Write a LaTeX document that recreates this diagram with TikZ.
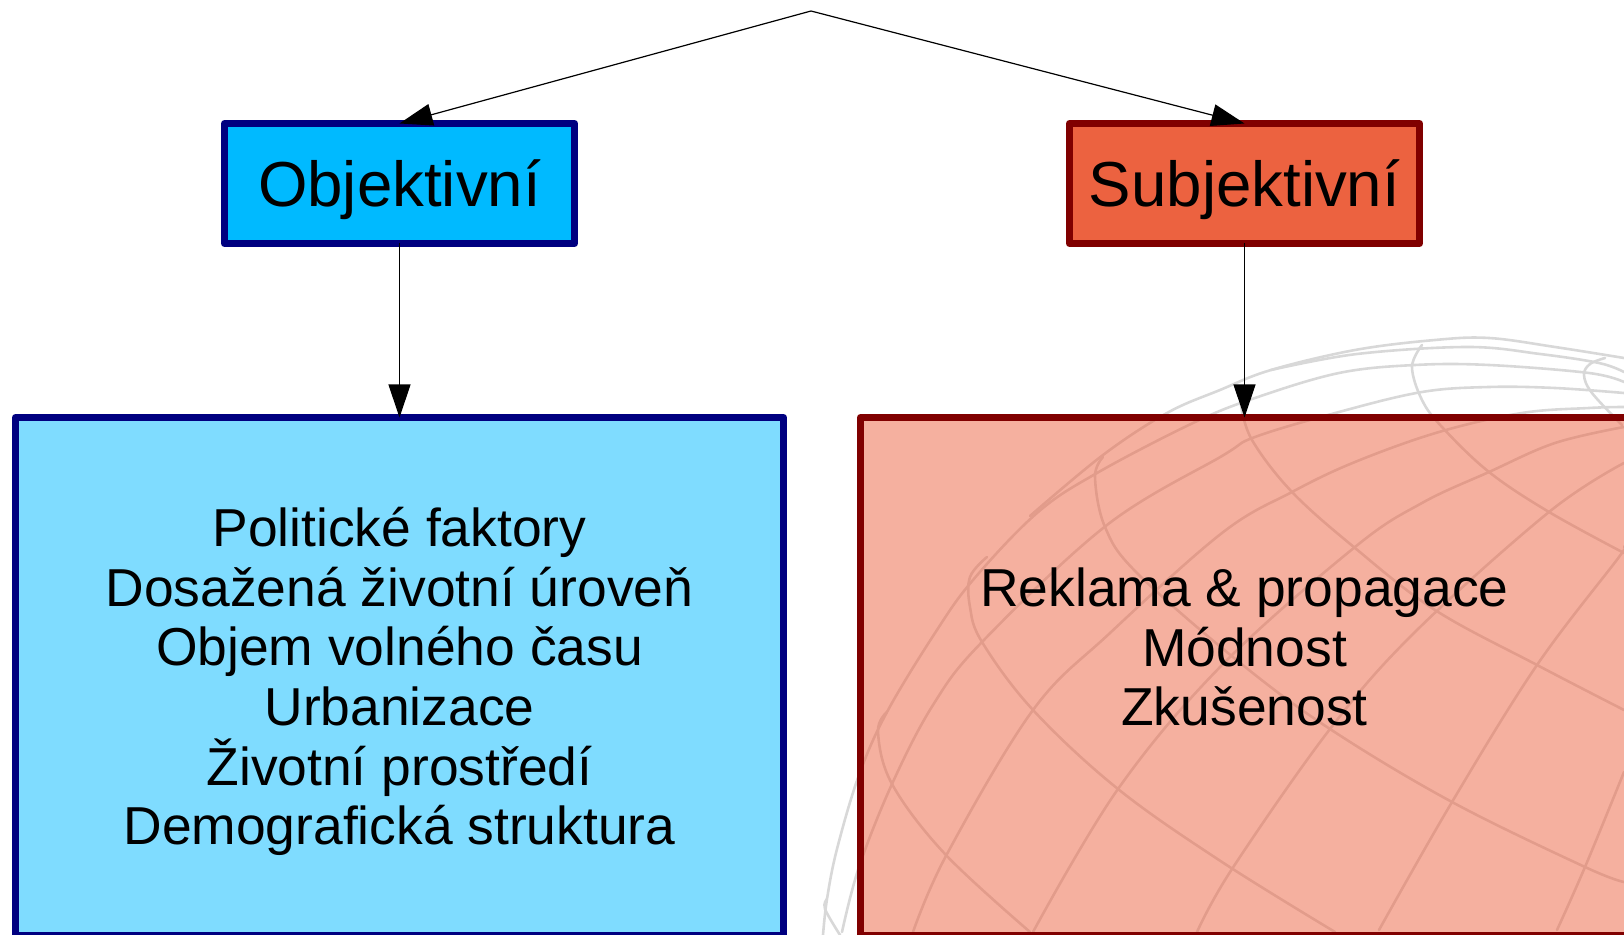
\documentclass[tikz,border=0pt]{standalone}
\usepackage{fontspec}
\setmainfont{Liberation Sans}
\usetikzlibrary{arrows.meta}
\definecolor{objfill}{HTML}{00BAFF}
\definecolor{objline}{HTML}{000080}
\definecolor{subfill}{HTML}{EC6240}
\definecolor{subline}{HTML}{800000}
\definecolor{globegray}{HTML}{D8D8D8}
\tikzset{
  headbox/.style={draw,line width=3.5pt,line join=round,inner sep=0pt,outer sep=0pt,
    minimum width=175pt,minimum height=60pt,text height=29pt,text depth=5.6pt,
    font=\fontsize{31.8}{36}\selectfont},
  listbox/.style={draw,line width=3.5pt,line join=round,inner sep=0pt,outer sep=0pt,
    minimum width=384pt,minimum height=259pt,fill opacity=.5,draw opacity=1},
  listtext/.style={align=center,inner sep=0pt,font=\fontsize{26.7}{29.8}\selectfont},
  link/.style={line width=.6pt,-{Triangle[length=16.5pt,width=11pt]}},
  globeline/.style={globegray,line width=1.3pt,line cap=round}
}
\begin{document}
\begin{tikzpicture}[x=.5pt,y=-.5pt]
  \useasboundingbox (0,0) rectangle (1624,935);
  % globe behind the boxes
  \begin{scope}[globeline]
    \draw plot[smooth,tension=.6] coordinates {(1030,516) (1103,455) (1167,413) (1220,390) (1271,370) (1355,350) (1435,340) (1489,338) (1555,347) (1624,358)};
    \draw plot[smooth,tension=.6] coordinates {(1271,370) (1357,354) (1468,347) (1540,354) (1599,363) (1624,372)};
    \draw plot[smooth,tension=.6] coordinates {(823,935) (827,899) (837,849) (859,775) (887,712) (935,633) (973,580) (1037,513) (1097,473) (1193,423) (1255,398) (1339,373) (1415,365) (1489,365) (1589,373) (1624,382)};
    \draw plot[smooth,tension=.6] coordinates {(842,932) (859,867) (892,784) (933,705) (982,642) (1107,525) (1222,456) (1255,437) (1339,412) (1422,392) (1489,387) (1555,388) (1624,393)};
    \draw plot[smooth,tension=.6] coordinates {(913,932) (947,854) (1033,710) (1110,633) (1222,533) (1292,492) (1355,462) (1439,432) (1522,413) (1589,408) (1624,407)};
    \draw plot[smooth,tension=.6] coordinates {(1033,932) (1118,789) (1222,665) (1355,547) (1422,503) (1489,472) (1555,443) (1624,427)};
    \draw plot[smooth,tension=.6] coordinates {(1197,932) (1232,869) (1330,729) (1415,632) (1549,512) (1624,463)};
    \draw plot[smooth,tension=.6] coordinates {(1379,930) (1452,802) (1537,665) (1619,557) (1624,547)};
    \draw plot[smooth,tension=.6] coordinates {(1557,930) (1585,867) (1624,772)};
    \draw plot[smooth,tension=.6] coordinates {(1241,405) (1252,440) (1292,492) (1355,548) (1435,610) (1537,665) (1624,710)};
    \draw plot[smooth,tension=.6] coordinates {(1103,457) (1095,477) (1105,527) (1137,573) (1239,662) (1330,729) (1452,802) (1585,867) (1624,882)};
    \draw plot[smooth,tension=.6] coordinates {(1422,345) (1412,367) (1422,400) (1442,427) (1489,472) (1549,512) (1624,553)};
    \draw plot[smooth,tension=.6] coordinates {(1605,358) (1590,364) (1584,375) (1592,393) (1622,425)};
    \draw plot[smooth,tension=.6] coordinates {(987,557) (970,577) (970,607) (982,642) (1033,710) (1118,789) (1222,862) (1335,932)};
    \draw plot[smooth,tension=.6] coordinates {(887,712) (878,732) (892,784) (945,854) (1030,932)};
    \draw plot[smooth,tension=.6] coordinates {(827,899) (825,909) (840,935)};
  \end{scope}
  % boxes
  \coordinate (root) at (811,11);
  \node[headbox,draw=objline,fill=objfill] (objektivni) at (399.5,183.5) {Objektivní};
  \node[headbox,draw=subline,fill=subfill] (subjektivni) at (1244.5,183.5) {Subjektivní};
  \node[listbox,draw=objline,fill=objfill] (objlist) at (399.5,676.5) {};
  \node[listbox,draw=subline,fill=subfill] (sublist) at (1244.5,676.5) {};
  \node[listtext] (objtext) at (399.5,681.5) {Politické faktory\\Dosažená životní úroveň\\Objem volného času\\Urbanizace\\Životní prostředí\\Demografická struktura};
  \node[listtext] (subtext) at (1244.5,647) {Reklama \& propagace\\Módnost\\Zkušenost};
  % edges
  \begin{scope}[link]
    \draw (root) to (objektivni.north);
    \draw (root) to (subjektivni.north);
    \draw (objektivni.south) to (objlist.north);
    \draw (subjektivni.south) to (sublist.north);
  \end{scope}
\end{tikzpicture}
\end{document}
